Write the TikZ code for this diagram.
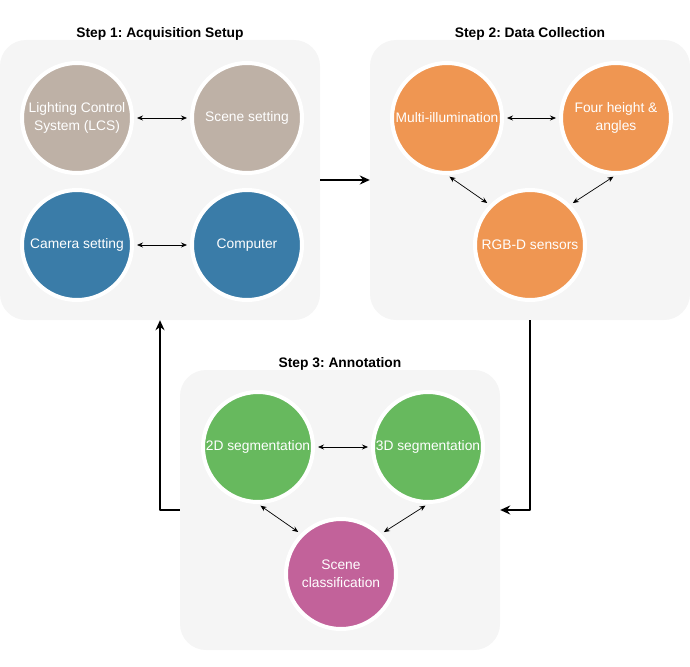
\documentclass[tikz,border=0pt]{standalone}
\usepackage{fontspec}
\setmainfont{Liberation Sans}
\usepackage{tikz}
\usetikzlibrary{positioning}
\usetikzlibrary{arrows.meta}
\frenchspacing

\definecolor{panelgray}{HTML}{F5F5F5}
\definecolor{taupe}{HTML}{BEB1A6}
\definecolor{camblue}{HTML}{3A7CA8}
\definecolor{dcorange}{HTML}{EF9652}
\definecolor{anngreen}{HTML}{67B95E}
\definecolor{scenepink}{HTML}{C2629A}

\tikzset{
	panel/.style={rectangle, rounded corners=26pt, fill=panelgray, minimum width=320pt, minimum height=280pt, inner sep=0pt},
	steptitle/.style={font=\bfseries\fontsize{13.8}{16}\selectfont, inner sep=1pt},
	blob/.style={circle, draw=white, line width=4pt, minimum size=110pt, inner sep=0pt, text=white, align=center, font=\fontsize{13.8}{18}\selectfont},
	link/.style={{Stealth[length=6pt,width=5pt]}-{Stealth[length=6pt,width=5pt]}, line width=0.7pt, shorten <=3pt, shorten >=3pt},
	flow/.style={-{Stealth[length=10pt,width=9pt]}, line width=2pt, line join=round}
}

\begin{document}
\begin{tikzpicture}[x=1pt, y=-1pt, node distance=-2pt]
	\useasboundingbox (0,0) rectangle (690,666);
	% the three panels
	\node (p1) [panel] at (160,180) {}; \node (p2) [panel] at (530,180) {};
	\node (p3) [panel] at (340,510) {};
	\node (t1) [steptitle, above=of p1] {Step 1: Acquisition Setup};
	\node (t2) [steptitle, above=of p2] {Step 2: Data Collection};
	\node (t3) [steptitle, above=of p3] {Step 3: Annotation};
	% step 1
	\node (lcs) [blob, fill=taupe] at (77,118) {Lighting Control\\System (LCS)};
	\node (scene) [blob, fill=taupe] at (247,118) {Scene setting};
	\node (cam) [blob, fill=camblue] at (77,245) {Camera setting};
	\node (pc) [blob, fill=camblue] at (247,245) {Computer};
	\draw[link] (lcs) -- (scene); \draw[link] (cam) -- (pc);
	% step 2
	\node (illum) [blob, fill=dcorange] at (447,118) {Multi-illumination};
	\node (height) [blob, fill=dcorange] at (616,118) {Four height \&\\angles};
	\node (rgbd) [blob, fill=dcorange] at (530,245) {RGB-D sensors};
	\draw[link] (illum) -- (height); \draw[link] (illum.south) -- (rgbd.north west);
	\draw[link] (height.south) -- (rgbd.north east);
	% step 3
	\node (seg2d) [blob, fill=anngreen] at (258,447) {2D segmentation};
	\node (seg3d) [blob, fill=anngreen] at (428,447) {3D segmentation};
	\node (cls) [blob, fill=scenepink] at (341,574) {Scene\\classification};
	\draw[link] (seg2d) -- (seg3d); \draw[link] (seg2d.south) -- (cls.north west);
	\draw[link] (seg3d.south) -- (cls.north east);
	% between the steps
	\draw[flow] (p1) -- (p2);
	\draw[flow] (p2.south) |- (p3.east);
	\draw[flow] (p3.west) -| (p1.south);
\end{tikzpicture}
\end{document}
